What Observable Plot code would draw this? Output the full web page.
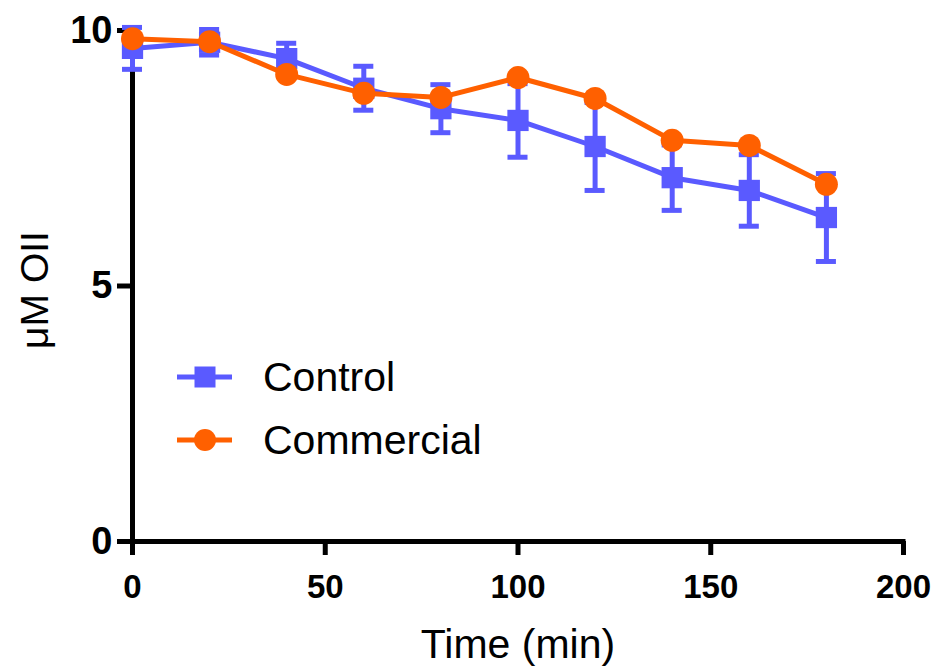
<!DOCTYPE html>
<html><head><meta charset="utf-8">
<script src="https://cdn.jsdelivr.net/npm/d3@7"></script>
<script src="https://cdn.jsdelivr.net/npm/@observablehq/plot@0.6"></script>
<style>
body{margin:0;background:#fff;}
#wrap{position:relative;width:935px;height:668px;font-family:"Liberation Sans",Arial,sans-serif;}
#legend{position:absolute;left:0;top:0;pointer-events:none;}
</style></head><body><div id="wrap"></div>
<script>
const times = [0, 20, 40, 60, 80, 100, 120, 140, 160, 180];
const controlMean = [9.65, 9.77, 9.45, 8.87, 8.47, 8.24, 7.73, 7.12, 6.87, 6.34];
const controlSD = [0.41, 0.25, 0.30, 0.43, 0.47, 0.72, 0.86, 0.64, 0.70, 0.86];
const commercialMean = [9.84, 9.78, 9.14, 8.77, 8.69, 9.08, 8.67, 7.85, 7.75, 6.99];
const seriesNames = ["Control", "Commercial"];
const xTicks = [0, 50, 100, 150, 200];
const yTicks = [0, 5, 10];
const xLabel = "Time (min)";
const yLabel = "μM OII";

const BLUE = "#5a5aff", ORANGE = "#ff6000";
const capHalf = 2.6;

const control = times.map((t, i) => ({t, v: controlMean[i], sd: controlSD[i]}));
const commercial = times.map((t, i) => ({t, v: commercialMean[i]}));

const chart = Plot.plot({
  width: 935, height: 668,
  marginLeft: 132, marginRight: 32, marginTop: 30, marginBottom: 127,
  x: {domain: [0, 200]},
  y: {domain: [0, 10]},
  style: {fontFamily: "Liberation Sans, Arial, sans-serif", background: "white", color: "black", overflow: "visible"},
  marks: [
    Plot.axisY({ticks: yTicks, tickSize: 15, tickPadding: 5, fontSize: 38, fontWeight: "bold", strokeWidth: 5, label: null, tickFormat: d => String(d)}),
    Plot.axisX({ticks: xTicks, tickSize: 14, tickPadding: 19, fontSize: 33, fontWeight: "bold", strokeWidth: 5, label: null, tickFormat: d => String(d)}),
    Plot.ruleX([0], {y1: 0, y2: 10, strokeWidth: 5}),
    Plot.ruleY([0], {x1: 0, x2: 200, strokeWidth: 5, strokeLinecap: "square"}),
    Plot.text([xLabel], {frameAnchor: "bottom", lineAnchor: "bottom", dy: 116, fontSize: 41}),
    Plot.text([yLabel], {frameAnchor: "left", textAnchor: "middle", rotate: -90, dx: -97, dy: 4, fontSize: 39}),
    // Control error bars
    Plot.ruleX(control, {x: "t", y1: d => d.v - d.sd, y2: d => d.v + d.sd, stroke: BLUE, strokeWidth: 5}),
    Plot.ruleY(control, {y: d => d.v + d.sd, x1: d => d.t - capHalf, x2: d => d.t + capHalf, stroke: BLUE, strokeWidth: 5}),
    Plot.ruleY(control, {y: d => d.v - d.sd, x1: d => d.t - capHalf, x2: d => d.t + capHalf, stroke: BLUE, strokeWidth: 5}),
    Plot.line(control, {x: "t", y: "v", stroke: BLUE, strokeWidth: 5}),
    Plot.dot(control, {x: "t", y: "v", symbol: "square", r: 12, fill: BLUE}),
    Plot.line(commercial, {x: "t", y: "v", stroke: ORANGE, strokeWidth: 5}),
    Plot.dot(commercial, {x: "t", y: "v", symbol: "circle", r: 11.5, fill: ORANGE})
  ]
});
const wrap = document.getElementById("wrap");
wrap.appendChild(chart);

// Legend overlay
const ns = "http://www.w3.org/2000/svg";
const leg = document.createElementNS(ns, "svg");
leg.setAttribute("id", "legend");
leg.setAttribute("width", 935);
leg.setAttribute("height", 668);
const items = [
  {name: seriesNames[0], color: BLUE, sym: "square", y: 377, base: 391},
  {name: seriesNames[1], color: ORANGE, sym: "circle", y: 440, base: 454}
];
items.forEach(it => {
  const l = document.createElementNS(ns, "line");
  l.setAttribute("x1", 177); l.setAttribute("x2", 232);
  l.setAttribute("y1", it.y); l.setAttribute("y2", it.y);
  l.setAttribute("stroke", it.color); l.setAttribute("stroke-width", 5);
  leg.appendChild(l);
  let m;
  if (it.sym === "square") {
    m = document.createElementNS(ns, "rect");
    m.setAttribute("x", 205 - 10.5); m.setAttribute("y", it.y - 10.5);
    m.setAttribute("width", 21); m.setAttribute("height", 21);
  } else {
    m = document.createElementNS(ns, "circle");
    m.setAttribute("cx", 205); m.setAttribute("cy", it.y); m.setAttribute("r", 11);
  }
  m.setAttribute("fill", it.color);
  leg.appendChild(m);
  const t = document.createElementNS(ns, "text");
  t.setAttribute("x", 263); t.setAttribute("y", it.base);
  t.setAttribute("font-size", 41);
  t.setAttribute("font-family", "Liberation Sans, Arial, sans-serif");
  t.setAttribute("fill", "black");
  t.textContent = it.name;
  leg.appendChild(t);
});
wrap.appendChild(leg);
</script>
</body></html>
